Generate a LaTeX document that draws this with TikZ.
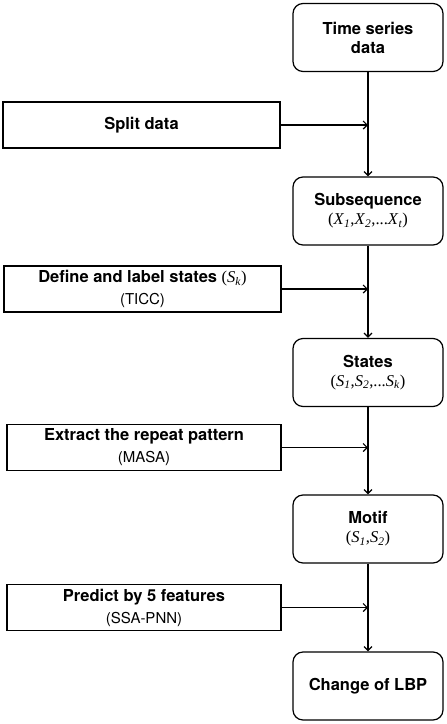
\documentclass[tikz,border=0pt]{standalone}
\usepackage{fontspec}
\usetikzlibrary{arrows.meta}
\setmainfont{TeX Gyre Heros}
\newfontfamily\tms{Liberation Serif}
\newcommand{\vr}[2]{\textit{#1}\textsubscript{\textit{#2}}}
\newcommand{\sub}[1]{{\mdseries\fontsize{15}{18}\selectfont #1}}
\newcommand{\mth}[1]{{\mdseries\tms\fontsize{16.5}{18}\selectfont #1}}
\tikzset{
  >={Straight Barb[length=4pt,width=8pt]},
  stage/.style={draw, line width=1.2pt, rounded corners=10pt, minimum width=150pt, minimum height=68pt, align=center, font=\fontsize{16.5}{19}\selectfont\bfseries},
  task/.style={draw, line width=1.2pt, minimum height=46pt, align=center, font=\fontsize{16.5}{19}\selectfont\bfseries},
  flow/.style={->, line width=1.2pt}
}
\begin{document}
\begin{tikzpicture}[x=1pt, y=-1pt]
\useasboundingbox (0,0) rectangle (447,724);
% main column
\node[stage] (ts) at (368,37.5) {Time series\\data};
\node[stage] (subseq) at (368,211) {Subsequence\\\mth{(\vr{X}{1},\vr{X}{2},...\vr{X}{t})}};
\node[stage] (states) at (368,372.5) {States\\\mth{(\vr{S}{1},\vr{S}{2},...\vr{S}{k})}};
\node[stage] (motif) at (368,529) {Motif\\\mth{(\vr{S}{1},\vr{S}{2})}};
\node[stage] (lbp) at (368,686) {Change of LBP};
% side steps
\node[task, minimum width=277pt] (split) at (141.5,125) {Split data};
\node[task, minimum width=277pt] (label) at (142.5,289) {Define and label states \mth{(\vr{S}{k})}\\[3pt]\sub{(TICC)}};
\node[task, minimum width=274pt] (extract) at (144,447.5) {Extract the repeat pattern\\[3pt]\sub{(MASA)}};
\node[task, minimum width=274pt] (predict) at (144,607.5) {Predict by 5 features\\[3pt]\sub{(SSA-PNN)}};
\draw[flow] (ts) -- (subseq);
\draw[flow] (subseq) -- (states);
\draw[flow] (states) -- (motif);
\draw[flow] (motif) -- (lbp);
\draw[flow] (split) -- (split -| ts.south);
\draw[flow] (label) -- (label -| subseq.south);
\draw[flow] (extract) -- (extract -| states.south);
\draw[flow] (predict) -- (predict -| motif.south);
\end{tikzpicture}
\end{document}
